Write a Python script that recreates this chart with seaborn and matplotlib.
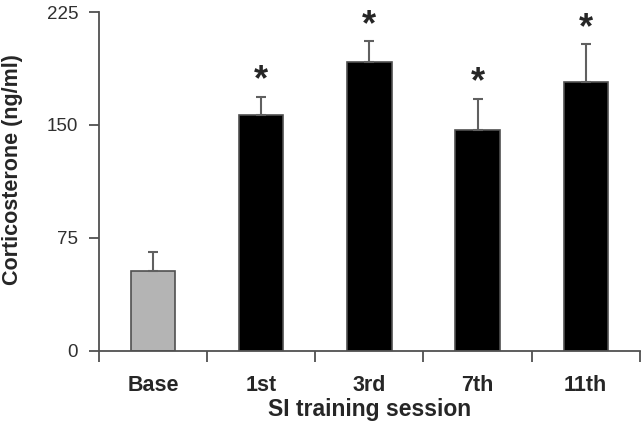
import numpy as np
import pandas as pd
import matplotlib
matplotlib.use('Agg')
import matplotlib.pyplot as plt
from matplotlib.ticker import FixedLocator
import seaborn as sns

sessions = ['Base', '1st', '3rd', '7th', '11th']
cort_mean = [53, 156.5, 191.5, 146.5, 178.5]
cort_sem = [12.5, 12, 14, 21, 25]
significant = [False, True, True, True, True]
bar_colors = ['#b4b4b4', '#000000', '#000000', '#000000', '#000000']

sns.set_style('white')
plt.rcParams['font.family'] = ['Liberation Sans', 'DejaVu Sans']

df = pd.DataFrame({'session': sessions, 'cort': cort_mean})

fig = plt.figure(figsize=(6.43, 4.37), dpi=100)
ax = fig.add_axes([0.154, 0.197, 0.841, 0.7755])

sns.barplot(data=df, x='session', y='cort', hue='session', palette=bar_colors,
            legend=False, width=0.41, edgecolor='#505050', linewidth=1.2, ax=ax)

# upward-only error bars
xs = np.arange(len(sessions))
ax.errorbar(xs, cort_mean, yerr=[np.zeros(len(xs)), cort_sem], fmt='none',
            ecolor='#606060', elinewidth=1.5, capsize=3.5, capthick=1.5, zorder=1)

for x, m, e, s in zip(xs, cort_mean, cort_sem, significant):
    if s:
        ax.annotate('*', (x, m + e), xytext=(0, -1), textcoords='offset points',
                    ha='center', va='bottom', fontsize=26, fontweight='bold')

ax.set_xlim(-0.5, 4.5)
ax.set_ylim(0, 225)
ax.set_yticks([0, 75, 150, 225])
ax.xaxis.set_minor_locator(FixedLocator(np.arange(-0.5, 5, 1)))
ax.tick_params(axis='x', which='major', length=0, pad=17, labelsize=15.5)
ax.tick_params(axis='x', which='minor', length=8, width=1.3, color='#505050', direction='out', bottom=True)
ax.tick_params(axis='y', length=7, width=1.3, color='#505050', direction='out', left=True,
               pad=8, labelsize=13.5, labelcolor='#303030')
for lab in ax.get_xticklabels():
    lab.set_fontweight('bold')

sns.despine(ax=ax)
for sp in ['left', 'bottom']:
    ax.spines[sp].set_color('#505050')
    ax.spines[sp].set_linewidth(1.3)

ax.set_xlabel('SI training session', fontsize=16.5, fontweight='bold', labelpad=2)
ax.set_ylabel('Corticosterone (ng/ml)', fontsize=15.5, fontweight='bold')
ax.yaxis.set_label_coords(0.036, 0.611, transform=fig.transFigure)

fig.savefig('out.png', dpi=100)
